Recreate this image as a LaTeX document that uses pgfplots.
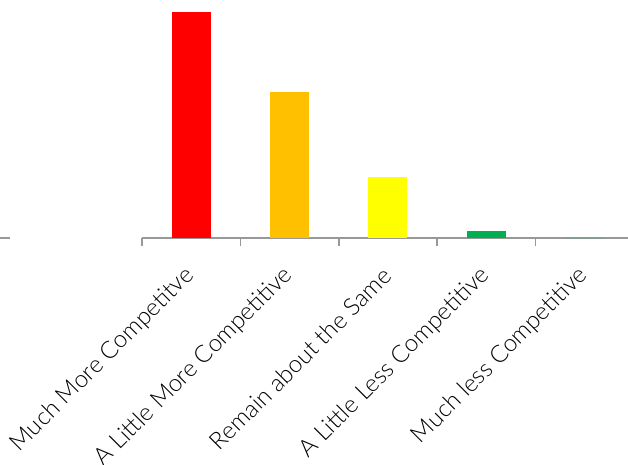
\documentclass[border=0pt]{standalone}
\usepackage{pgfplots}
\pgfplotsset{compat=1.18}
\usepackage{fontspec}
\setmainfont{Lato Light}
\definecolor{axgray}{HTML}{989898}
\begin{document}
\begin{tikzpicture}[x=1pt,y=1pt]
\useasboundingbox (0,0) rectangle (628,464);
\draw[axgray, line width=1.5pt] (0,226) -- (10,226);
\begin{axis}[
  at={(142pt,226pt)}, anchor=south west,
  scale only axis, width=486pt, height=238pt,
  xmin=-0.5, xmax=4.44, ymin=0, ymax=54.1,
  axis x line=bottom, axis y line=none,
  x axis line style={axgray, line width=1.5pt, -},
  xtick={0,1,2,3,4},
  xticklabels={Much More Competitve, A Little More Competitive, Remain about the Same, A Little Less Competitive, Much less Competitive},
  major tick length=0pt,
  minor xtick={-0.5,0.5,1.5,2.5,3.5},
  minor tick length=8pt,
  minor tick style={axgray, line width=1.5pt},
  tick align=outside,
  xticklabel style={rotate=45, anchor=east, font=\fontsize{24}{28}\selectfont, inner sep=0pt, xshift=-24.5pt, yshift=-23.5pt},
  ybar, bar width=39pt, bar shift=0pt,
  clip=false,
]
\addplot[fill={rgb,255:red,255;green,0;blue,0}, draw=none] coordinates {(0,51.4)};
\addplot[fill={rgb,255:red,255;green,192;blue,0}, draw=none] coordinates {(1,33.2)};
\addplot[fill={rgb,255:red,255;green,255;blue,0}, draw=none] coordinates {(2,13.9)};
\addplot[fill={rgb,255:red,0;green,176;blue,80}, draw=none] coordinates {(3,1.6)};
\addplot[fill={rgb,255:red,0;green,176;blue,80}, draw=none] coordinates {(4,0)};
\end{axis}
\end{tikzpicture}
\end{document}
